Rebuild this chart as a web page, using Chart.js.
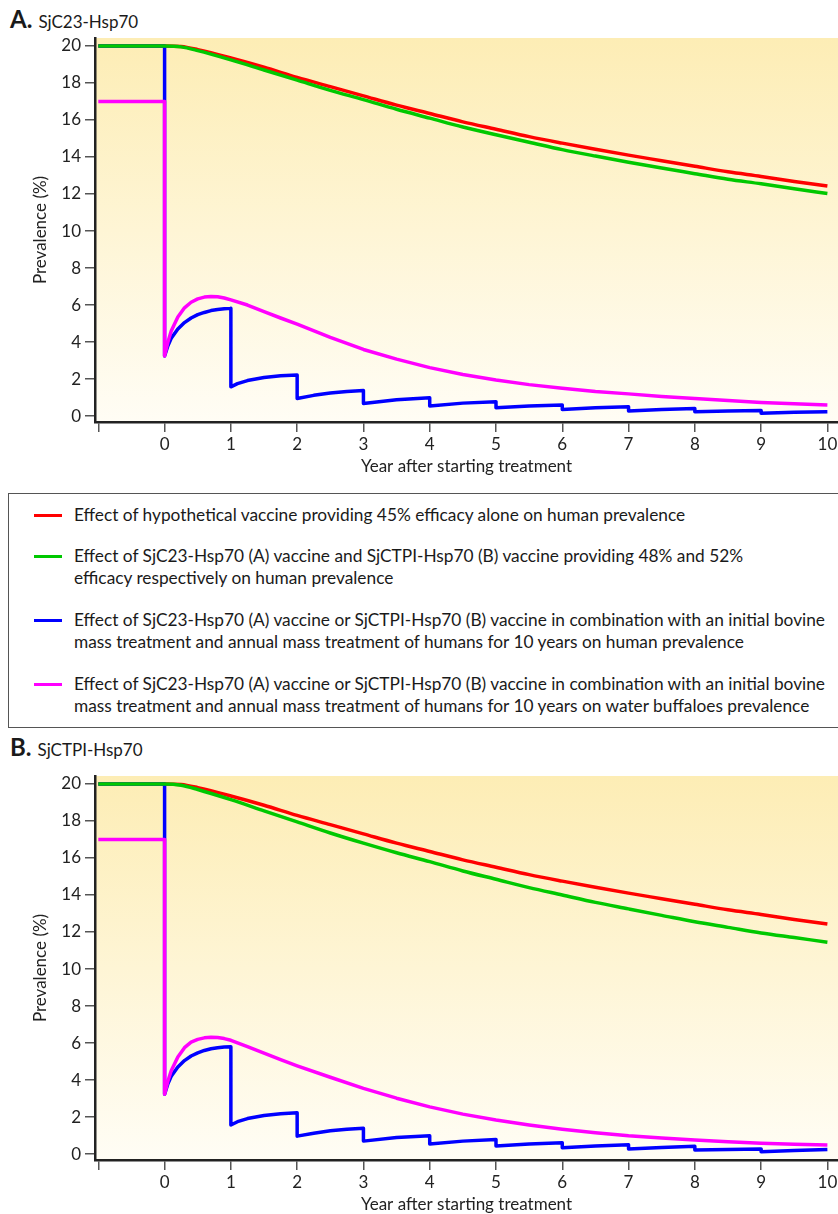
<!DOCTYPE html>
<html>
<head>
<meta charset="utf-8">
<script src="https://cdn.jsdelivr.net/npm/chart.js@4.4.0/dist/chart.umd.min.js"></script>
<style>
  body { margin: 0; width: 838px; height: 1214px; overflow: hidden; background: #fff; font-family: Lato, "Noto Sans", sans-serif; color: #1a1a1a; }
  .panel { position: absolute; left: 0; width: 838px; height: 480px; }
  .head { position: absolute; left: 10px; font-size: 17px; white-space: nowrap; }
  .head b { font-size: 24px; margin-right: 6px; }
  #legend { position: absolute; left: 8px; top: 493px; width: 840px; height: 233px; border: 1.5px solid #555; }
  .item { position: absolute; left: 0; width: 830px; }
  .item span.ln { position: absolute; left: 25px; top: 10px; width: 28px; height: 3px; }
  .item div { position: absolute; left: 65px; top: 0; font-size: 17.3px; line-height: 22px; white-space: nowrap; }
</style>
</head>
<body>
<div class="head" style="top:4px"><b>A.</b>SjC23-Hsp70</div>
<canvas id="chartA" class="panel" width="838" height="480" style="top:0"></canvas>

<div id="legend">
  <div class="item" style="top:10px"><span class="ln" style="background:#ff0000"></span>
    <div>Effect of hypothetical vaccine providing 45% efficacy alone on human prevalence</div></div>
  <div class="item" style="top:51px"><span class="ln" style="background:#00c800"></span>
    <div>Effect of SjC23-Hsp70 (A) vaccine and SjCTPI-Hsp70 (B) vaccine providing 48% and 52%<br>efficacy respectively on human prevalence</div></div>
  <div class="item" style="top:115px"><span class="ln" style="background:#0000ff"></span>
    <div>Effect of SjC23-Hsp70 (A) vaccine or SjCTPI-Hsp70 (B) vaccine in combination with an initial bovine<br>mass treatment and annual mass treatment of humans for 10 years on human prevalence</div></div>
  <div class="item" style="top:179px"><span class="ln" style="background:#ff00ff"></span>
    <div>Effect of SjC23-Hsp70 (A) vaccine or SjCTPI-Hsp70 (B) vaccine in combination with an initial bovine<br>mass treatment and annual mass treatment of humans for 10 years on water buffaloes prevalence</div></div>
</div>

<div class="head" style="top:732px"><b>B.</b>SjCTPI-Hsp70</div>
<canvas id="chartB" class="panel" width="838" height="480" style="top:738px"></canvas>

<script>
var xTicks = [-1, 0, 1, 2, 3, 4, 5, 6, 7, 8, 9, 10];
var yTicks = [0, 2, 4, 6, 8, 10, 12, 14, 16, 18, 20];

// smooth vaccine-only curves
var smoothYears = [-1, 0, 0.25, 0.5, 1, 1.5, 2, 2.5, 3, 3.5, 4, 4.5, 5, 5.5, 6, 6.5, 7, 7.5, 8, 8.5, 9, 9.5, 10];
var redHyp = [20, 20, 19.97, 19.8, 19.35, 18.85, 18.3, 17.8, 17.3, 16.8, 16.35, 15.9, 15.5, 15.1, 14.75, 14.42, 14.1, 13.8, 13.5, 13.2, 12.95, 12.68, 12.43];
var greenA = [20, 20, 19.95, 19.75, 19.25, 18.7, 18.15, 17.6, 17.1, 16.58, 16.1, 15.62, 15.2, 14.8, 14.4, 14.05, 13.72, 13.4, 13.1, 12.8, 12.55, 12.28, 12.03];
var greenB = [20, 20, 19.93, 19.7, 19.15, 18.55, 17.95, 17.35, 16.8, 16.28, 15.8, 15.3, 14.85, 14.4, 14.0, 13.6, 13.25, 12.9, 12.55, 12.25, 11.95, 11.7, 11.45];

// human prevalence with yearly mass treatment (drops at each year)
var blueYears = [-1, 0, 0, 0.05, 0.1, 0.2, 0.3, 0.4, 0.5, 0.6, 0.7, 0.8, 0.9, 1, 1, 1.1, 1.25, 1.5, 1.75, 2, 2, 2.25, 2.5, 2.75, 3, 3, 3.5, 4, 4, 4.5, 5, 5, 5.5, 6, 6, 6.5, 7, 7, 7.5, 8, 8, 8.5, 9, 9, 9.5, 10];
var blueA = [20, 20, 3.25, 3.8, 4.2, 4.7, 5.05, 5.3, 5.48, 5.6, 5.7, 5.76, 5.8, 5.82, 1.58, 1.75, 1.92, 2.08, 2.18, 2.22, 0.95, 1.12, 1.25, 1.33, 1.38, 0.68, 0.88, 0.99, 0.54, 0.7, 0.78, 0.45, 0.55, 0.6, 0.36, 0.45, 0.5, 0.28, 0.36, 0.41, 0.23, 0.27, 0.3, 0.15, 0.21, 0.24];
var blueB = [20, 20, 3.23, 3.8, 4.2, 4.7, 5.05, 5.3, 5.47, 5.6, 5.69, 5.75, 5.79, 5.8, 1.57, 1.75, 1.92, 2.08, 2.18, 2.23, 0.97, 1.13, 1.26, 1.34, 1.39, 0.7, 0.89, 0.99, 0.54, 0.7, 0.79, 0.43, 0.55, 0.61, 0.34, 0.44, 0.5, 0.28, 0.36, 0.42, 0.22, 0.25, 0.28, 0.13, 0.2, 0.25];

// water buffalo prevalence
var pinkYears = [-1, 0, 0, 0.05, 0.1, 0.2, 0.3, 0.4, 0.5, 0.6, 0.7, 0.8, 0.9, 1, 1.25, 1.5, 1.75, 2, 2.5, 3, 3.5, 4, 4.5, 5, 5.5, 6, 6.5, 7, 7.5, 8, 8.5, 9, 9.5, 10];
var pinkA = [17, 17, 3.25, 4.0, 4.6, 5.35, 5.85, 6.15, 6.33, 6.43, 6.46, 6.45, 6.38, 6.28, 6.0, 5.65, 5.3, 4.97, 4.25, 3.6, 3.08, 2.62, 2.25, 1.95, 1.7, 1.5, 1.33, 1.2, 1.06, 0.95, 0.84, 0.74, 0.66, 0.6];
var pinkB = [17, 17, 3.23, 3.95, 4.5, 5.25, 5.75, 6.05, 6.2, 6.28, 6.31, 6.3, 6.24, 6.15, 5.8, 5.45, 5.1, 4.77, 4.15, 3.55, 3.02, 2.55, 2.16, 1.84, 1.57, 1.34, 1.15, 0.99, 0.87, 0.76, 0.66, 0.58, 0.53, 0.49];

function pts(xs, ys) {
  var out = [];
  for (var i = 0; i < xs.length; i++) out.push({x: xs[i], y: ys[i]});
  return out;
}

var bgPlugin = {
  id: 'bg',
  beforeDraw: function(chart) {
    var a = chart.chartArea, c = chart.ctx;
    var g = c.createLinearGradient(0, a.top, 0, a.bottom);
    g.addColorStop(0, '#fdedb5');
    g.addColorStop(1, '#fffdf5');
    c.save();
    c.fillStyle = g;
    c.fillRect(a.left, a.top, a.right - a.left, a.bottom - a.top);
    c.restore();
  }
};

function makeChart(id, green, blue, pink) {
  var ds = function(data, color, order, smooth) {
    return {
      data: data, borderColor: color, borderWidth: 3.5, pointRadius: 0, order: order,
      tension: 0, cubicInterpolationMode: smooth ? 'monotone' : 'default',
      borderJoinStyle: 'round', fill: false
    };
  };
  var tickFont = {family: 'Lato', size: 17};
  return new Chart(document.getElementById(id), {
    type: 'line',
    data: {
      datasets: [
        ds(pts(smoothYears, green), '#00c800', 0, true),
        ds(pts(pinkYears, pink), '#ff00ff', 1, false),
        ds(pts(blueYears, blue), '#0000ff', 2, false),
        ds(pts(smoothYears, redHyp), '#ff0000', 3, true)
      ]
    },
    options: {
      responsive: false, animation: false, devicePixelRatio: 1,
      layout: {padding: {top: 38, left: 26, right: 0, bottom: 0}},
      plugins: {legend: {display: false}, tooltip: {enabled: false}},
      scales: {
        x: {
          type: 'linear', min: -1.05, max: 10.16,
          afterBuildTicks: function(s) { s.ticks = xTicks.map(function(v) { return {value: v}; }); },
          afterFit: function(s) { s.height = 58; s.paddingLeft = 0; s.paddingRight = 0; },
          border: {display: true, color: '#222', width: 2.5},
          grid: {drawOnChartArea: false, drawTicks: true, tickLength: 10, color: '#555', lineWidth: 1.5},
          ticks: {font: tickFont, color: '#222', padding: 2, maxRotation: 0,
            callback: function(v) { return v === -1 ? '' : v; }},
          title: {display: true, text: 'Year after starting treatment', font: tickFont, color: '#222', padding: {top: 2, bottom: 3}}
        },
        y: {
          min: -0.32, max: 20.43,
          afterBuildTicks: function(s) { s.ticks = yTicks.map(function(v) { return {value: v}; }); },
          afterFit: function(s) { s.width = 69; s.paddingTop = 0; s.paddingBottom = 0; },
          border: {display: true, color: '#222', width: 2.5},
          grid: {drawOnChartArea: false, drawTicks: true, tickLength: 10, color: '#555', lineWidth: 1.5},
          ticks: {font: tickFont, color: '#222', padding: 4},
          title: {display: true, text: 'Prevalence (%)', font: tickFont, color: '#222'}
        }
      }
    },
    plugins: [bgPlugin]
  });
}

makeChart('chartA', greenA, blueA, pinkA);
makeChart('chartB', greenB, blueB, pinkB);
</script>
</body>
</html>
